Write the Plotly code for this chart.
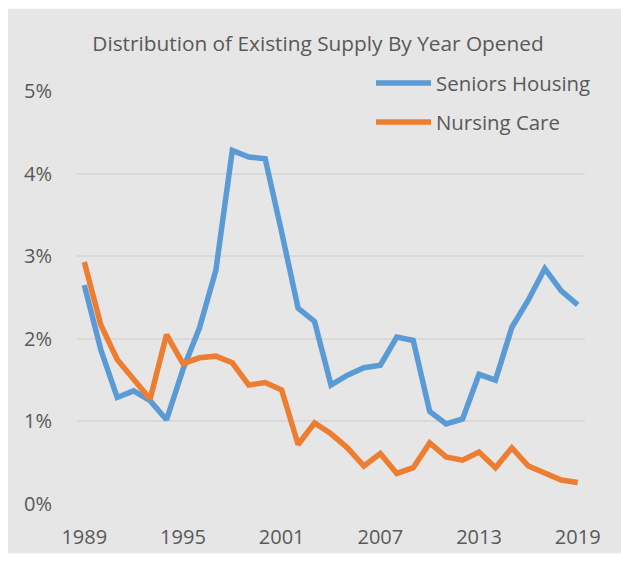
import plotly.graph_objects as go

# Year opened (category axis)
years = list(range(1989, 2020))

# Share of existing supply, percent
seniors_housing = [2.65, 1.87, 1.29, 1.37, 1.25, 1.02, 1.63, 2.13, 2.83, 4.28,
                   4.20, 4.18, 3.29, 2.37, 2.21, 1.44, 1.56, 1.65, 1.68, 2.02,
                   1.98, 1.12, 0.97, 1.03, 1.57, 1.50, 2.14, 2.47, 2.85, 2.58, 2.41]
nursing_care = [2.93, 2.17, 1.75, 1.51, 1.27, 2.05, 1.70, 1.77, 1.79, 1.71,
                1.44, 1.47, 1.38, 0.72, 0.98, 0.85, 0.68, 0.46, 0.61, 0.37,
                0.44, 0.74, 0.57, 0.53, 0.63, 0.44, 0.68, 0.46, 0.37, 0.29, 0.26]

y_ticks = [0, 1, 2, 3, 4, 5]
x_ticks = [1989, 1995, 2001, 2007, 2013, 2019]

W, H = 621, 562
L, R, T, B = 77, 36, 91, 54
pw, ph = W - L - R, H - T - B

def px(x):
    return (x - L) / pw

def py(y):
    return (H - B - y) / ph

grey = "#E6E6E6"
text_col = "#595959"
font_family = "Open Sans, Liberation Sans, sans-serif"

fig = go.Figure()

fig.add_trace(go.Scatter(
    x=years, y=seniors_housing, name="Seniors Housing", mode="lines",
    line=dict(color="#5B9BD5", width=5.5), legendgroup="a",
))
fig.add_trace(go.Scatter(
    x=years, y=nursing_care, name="Nursing Care", mode="lines",
    line=dict(color="#ED7D31", width=5.5), legendgroup="b",
))

# white frame on the left, top and bottom of the grey chart box
for x0, x1, y0, y1 in [(-5, 8, -5, H + 5), (-5, W + 5, -5, 8), (-5, W + 5, 558, H + 5)]:
    fig.add_shape(type="rect", xref="paper", yref="paper", layer="below",
                  x0=px(x0), x1=px(x1), y0=py(y1), y1=py(y0),
                  fillcolor="white", line_width=0)

fig.update_layout(
    width=W, height=H,
    margin=dict(l=L, r=R, t=T, b=B, pad=0),
    paper_bgcolor=grey,
    plot_bgcolor=grey,
    font=dict(family=font_family, color=text_col, size=20),
    title=dict(text="Distribution of Existing Supply By Year Opened",
               xref="paper", x=px(318), xanchor="center",
               y=1 - 44 / H, yanchor="middle",
               font=dict(size=20.8, color=text_col)),
    showlegend=True,
    legend=dict(x=px(371), y=py(63), xanchor="left", yanchor="top",
                bgcolor="rgba(0,0,0,0)", traceorder="grouped",
                tracegroupgap=9.5, font=dict(size=20.4, color=text_col),
                itemwidth=55),
    xaxis=dict(range=[1988.556, 2019.444], tickvals=x_ticks,
               showgrid=False, zeroline=False, showline=False,
               ticks="outside", ticklen=15, tickcolor="rgba(0,0,0,0)",
               tickfont=dict(size=20, color=text_col)),
    yaxis=dict(range=[0, 5], tickvals=y_ticks,
               ticktext=[f"{v}%" for v in y_ticks],
               showgrid=True, gridcolor="#D9D9D9", gridwidth=1.5,
               zeroline=False, showline=False,
               ticks="outside", ticklen=20, tickcolor="rgba(0,0,0,0)",
               tickfont=dict(size=20, color=text_col)),
)

# drop the default body margin so the page is exactly the figure size
fig.write_html("out.html", config={"displayModeBar": False},
               post_script="document.body.style.margin = '0';")
